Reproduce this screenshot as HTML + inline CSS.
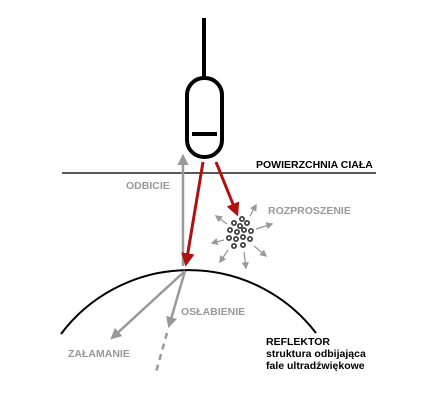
<!DOCTYPE html>
<html><head><meta charset="utf-8"><style>
body{margin:0;background:#fff}
svg{display:block}
text{font-family:"Liberation Sans",sans-serif;font-weight:bold;font-size:10.5px}
</style></head><body>
<svg width="426" height="415" viewBox="0 0 426 415">
<defs>
<marker id="ag" viewBox="0 0 10 10" refX="8" refY="5" markerWidth="4.5" markerHeight="4.5" orient="auto"><path d="M0 0L10 5L0 10z" fill="#999"/></marker>
<marker id="ar" viewBox="0 0 10 10" refX="8" refY="5" markerWidth="4.5" markerHeight="4.5" orient="auto"><path d="M0 0L10 5L0 10z" fill="#b01010"/></marker>
<marker id="as" viewBox="0 0 10 10" refX="8" refY="5" markerWidth="5.5" markerHeight="5.5" orient="auto"><path d="M0 0L10 5L0 10z" fill="#999"/></marker>
</defs>
<g>
<line x1="204" y1="18" x2="204" y2="78" stroke="#000" stroke-width="4"/>
<rect x="187" y="78" width="35" height="79" rx="17" fill="#fff" stroke="#000" stroke-width="4"/>
<line x1="192" y1="134" x2="217" y2="134" stroke="#000" stroke-width="4"/>
</g>
<line x1="62" y1="173" x2="376" y2="173" stroke="#222" stroke-width="1.5"/>
<text x="256" y="168" fill="#000">POWIERZCHNIA CIAŁA</text>
<line x1="183" y1="266" x2="183" y2="156" stroke="#999" stroke-width="2.5" marker-end="url(#ag)"/>
<text x="126" y="189" fill="#999">ODBICIE</text>
<line x1="203" y1="162" x2="186" y2="264" stroke="#b01010" stroke-width="3" marker-end="url(#ar)"/>
<line x1="216" y1="162" x2="237" y2="214" stroke="#b01010" stroke-width="3" marker-end="url(#ar)"/>
<g fill="#fff" stroke="#444" stroke-width="1.8">
<circle cx="242" cy="219" r="2.1"/><circle cx="234" cy="223" r="2.1"/><circle cx="240" cy="226" r="2.1"/><circle cx="247" cy="223" r="2.1"/>
<circle cx="230" cy="230" r="2.1"/><circle cx="237" cy="232" r="2.1"/><circle cx="244" cy="230" r="2.1"/><circle cx="251" cy="231" r="2.1"/>
<circle cx="229" cy="238" r="2.1"/><circle cx="236" cy="239" r="2.1"/><circle cx="243" cy="237" r="2.1"/><circle cx="250" cy="239" r="2.1"/>
<circle cx="234" cy="246" r="2.1"/><circle cx="243" cy="245" r="2.1"/>
</g>
<g stroke="#999" stroke-width="1.3">
<line x1="250" y1="216" x2="256" y2="205" marker-end="url(#as)"/>
<line x1="256" y1="229" x2="272" y2="224" marker-end="url(#as)"/>
<line x1="254" y1="246" x2="266" y2="256" marker-end="url(#as)"/>
<line x1="244" y1="252" x2="246" y2="268" marker-end="url(#as)"/>
<line x1="228" y1="250" x2="220" y2="262" marker-end="url(#as)"/>
<line x1="224" y1="240" x2="212" y2="243" marker-end="url(#as)"/>
<line x1="227" y1="224" x2="216" y2="216" marker-end="url(#as)"/>
</g>
<text x="268" y="214" fill="#999">ROZPROSZENIE</text>
<path d="M61 334 A160 160 0 0 1 316 333" fill="none" stroke="#000" stroke-width="2"/>
<line x1="185" y1="271" x2="112" y2="338" stroke="#999" stroke-width="2.5" marker-end="url(#ag)"/>
<line x1="185" y1="271" x2="169" y2="326" stroke="#999" stroke-width="2.5" marker-end="url(#ag)"/>
<line x1="167" y1="333" x2="156" y2="372" stroke="#999" stroke-width="2.5" stroke-dasharray="6,5"/>
<text x="181" y="315" fill="#999">OSŁABIENIE</text>
<text x="68" y="357" fill="#999">ZAŁAMANIE</text>
<text x="266" y="345" fill="#000">REFLEKTOR</text>
<text x="266" y="357" fill="#000">struktura odbijająca</text>
<text x="266" y="369" fill="#000">fale ultradźwiękowe</text>
</svg>
</body></html>
